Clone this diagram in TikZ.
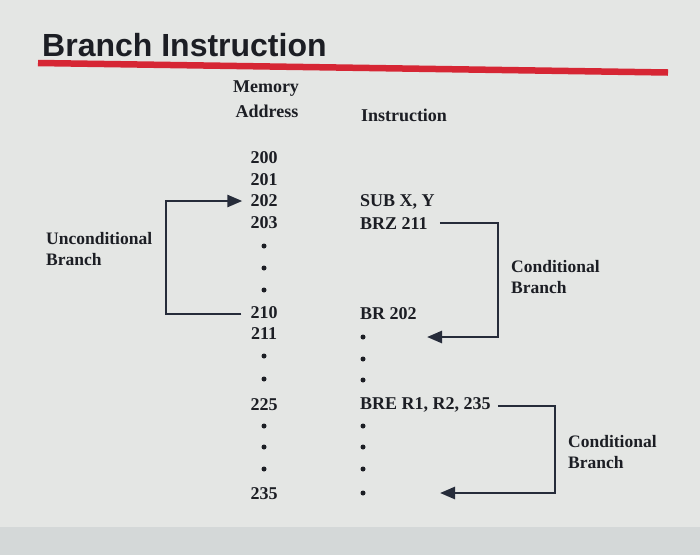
\documentclass[tikz,border=0pt]{standalone}
\usepackage{fontspec}
\setmainfont{Liberation Serif}
\newfontfamily\titlefont{Liberation Sans}
\usetikzlibrary{arrows.meta}
\definecolor{bg}{RGB}{228,230,228}
\definecolor{bgstrip}{RGB}{212,216,216}
\definecolor{redline}{RGB}{214,38,52}
\definecolor{ink}{RGB}{28,30,36}
\definecolor{arrowink}{RGB}{38,44,58}
\tikzset{
  txt/.style={inner sep=0pt, text=ink, font=\fontsize{18}{18}\selectfont\bfseries},
  addr/.style={txt, anchor=center},
  instr/.style={txt, anchor=west},
  lbl/.style={txt, anchor=west, align=left, font=\fontsize{17.5}{21.5}\selectfont\bfseries},
  dotnode/.style={circle, fill=ink, inner sep=0pt, minimum size=5pt},
  conn/.style={draw=arrowink, line width=2.6pt, -{Triangle[length=15pt,width=12pt]}},
}
\begin{document}
\begin{tikzpicture}[x=1pt,y=-1pt]
\fill[bg] (0,0) rectangle (700,555);
\fill[bgstrip] (0,527) rectangle (700,555);
\useasboundingbox (0,0) rectangle (700,555);
% title
\node[anchor=base west, inner sep=0pt, text=ink, font=\titlefont\fontsize{32}{32}\selectfont\bfseries] (title) at (42,56) {Branch Instruction};
\draw[redline, line width=6.5pt] (38,63) -- (668,72.5);
% headers
\node[addr] (hmem) at (266,89) {Memory};
\node[addr] (hadd) at (267,111) {Address};
\node[addr] (hins) at (404,115) {Instruction};
% addresses
\node[addr] (a200) at (264,158) {200};
\node[addr] (a201) at (264,180) {201};
\node[addr] (a202) at (264,201) {202};
\node[addr] (a203) at (264,223) {203};
\node[dotnode] (ad1) at (264,246) {};
\node[dotnode] (ad2) at (264,268) {};
\node[dotnode] (ad3) at (264,290) {};
\node[addr] (a210) at (264,313) {210};
\node[addr] (a211) at (264,334) {211};
\node[dotnode] (ad4) at (264,356) {};
\node[dotnode] (ad5) at (264,379) {};
\node[addr] (a225) at (264,405) {225};
\node[dotnode] (ad6) at (264,426) {};
\node[dotnode] (ad7) at (264,447) {};
\node[dotnode] (ad8) at (264,469) {};
\node[addr] (a235) at (264,494) {235};
% instructions
\node[instr] (isub) at (360,202) {SUB X, Y};
\node[instr] (ibrz) at (360,224) {BRZ 211};
\node[instr] (ibr)  at (360,314) {BR 202};
\node[dotnode] (id1) at (363,337) {};
\node[dotnode] (id2) at (363,359) {};
\node[dotnode] (id3) at (363,380) {};
\node[instr] (ibre) at (360,405) {BRE R1, R2, 235};
\node[dotnode] (id4) at (363,426) {};
\node[dotnode] (id5) at (363,447) {};
\node[dotnode] (id6) at (363,469) {};
\node[dotnode] (id7) at (363,493) {};
% labels
\node[lbl] (luc) at (46,249) {Unconditional\\Branch};
\node[lbl] (lc1) at (511,277) {Conditional\\Branch};
\node[lbl] (lc2) at (568,452) {Conditional\\Branch};
% corner coordinates
\coordinate (ucx) at (166,0);
\coordinate (c1x) at (498,0);
\coordinate (c2x) at (555,0);
\coordinate (t1) at (427,337);
\coordinate (t2) at (440,493);
% connectors
\draw[conn] ([xshift=-9pt,yshift=-1pt]a210.west) -| ([yshift=-1pt]ucx |- a210.west) |- ([xshift=-8pt]a202.west);
\draw[conn] ([xshift=12pt,yshift=1pt]ibrz.east) -| (c1x |- t1) -- (t1);
\draw[conn] ([xshift=7pt,yshift=-1pt]ibre.east) -| (c2x |- t2) -- (t2);
\end{tikzpicture}
\end{document}
